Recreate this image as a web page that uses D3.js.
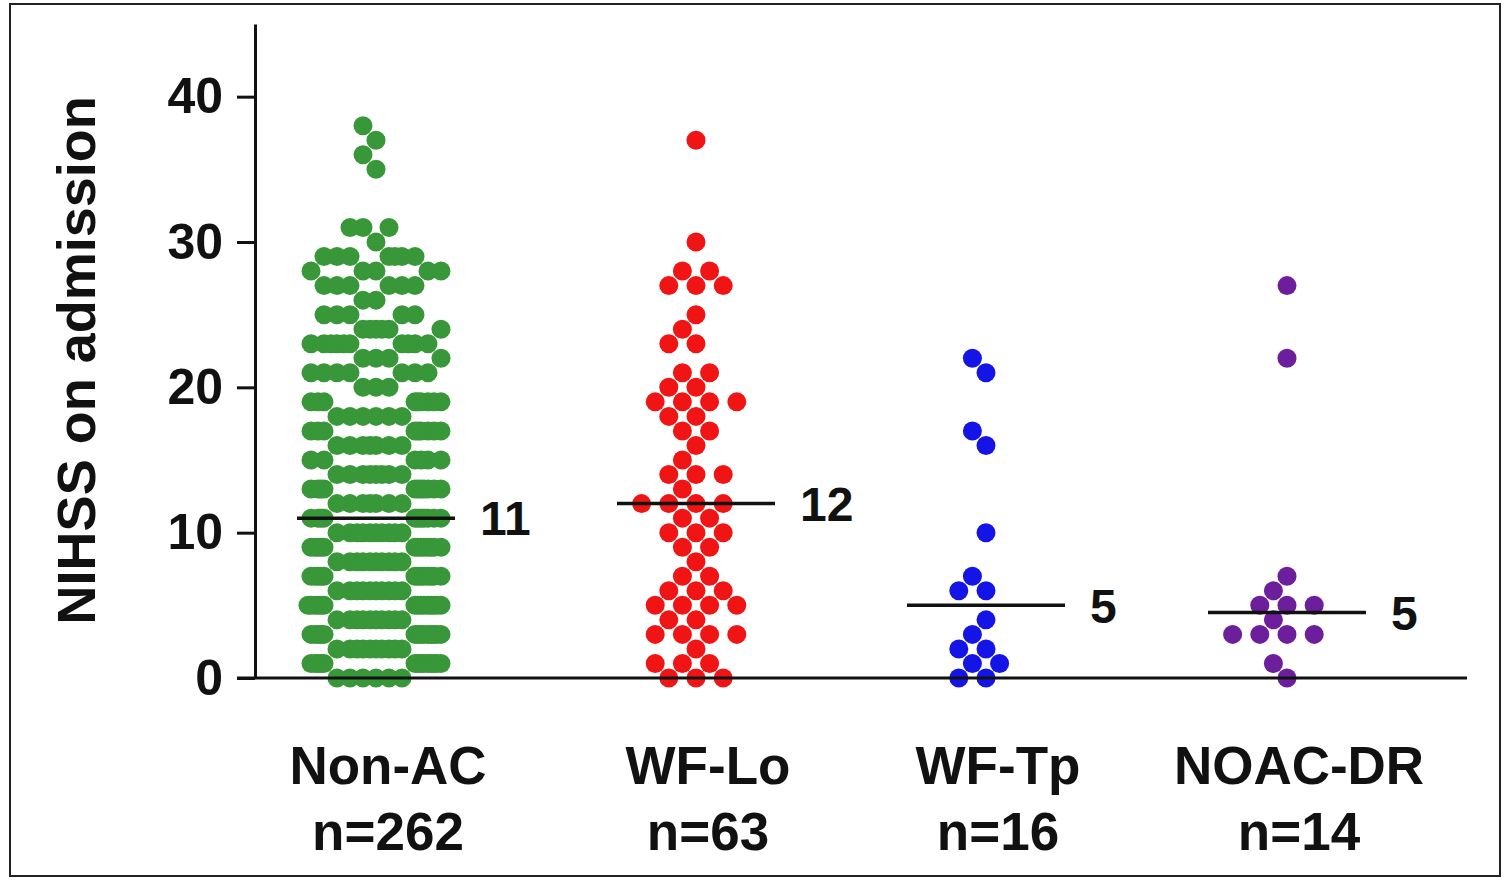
<!DOCTYPE html>
<html>

<head>
  <title>NIHSS on admission</title>
  <script src="https://cdn.jsdelivr.net/npm/d3@7"></script>
  <style>
    body { margin: 0; background: #fff; }
    text { font-family: "Liberation Sans", Arial, sans-serif; font-weight: bold; fill: #111; }
  </style>
</head>

<body>
  <svg width="1506" height="881" id="mainsvg"></svg>
  <script>
    // groups and labels
    const groups = ['Non-AC', 'WF-Lo', 'WF-Tp', 'NOAC-DR'];
    const groupN = ['n=262', 'n=63', 'n=16', 'n=14'];
    const colors = ['#389738', '#f01414', '#1414e6', '#6c1e9c'];
    const yTicks = [0, 10, 20, 30, 40];

    // NIHSS score -> number of patients with that score
    const nonAcScores = [0, 1, 2, 3, 4, 5, 6, 7, 8, 9, 10, 11, 12, 13, 14, 15, 16, 17, 18, 19, 20, 21, 22, 23, 24, 25, 26, 27, 28, 29, 30, 31, 35, 36, 37, 38];
    const nonAcCounts = [6, 14, 10, 14, 10, 15, 10, 13, 10, 13, 10, 11, 7, 11, 8, 6, 7, 9, 6, 9, 3, 7, 4, 10, 6, 5, 2, 6, 5, 7, 1, 3, 1, 1, 1, 1];
    const wfLoScores = [0, 1, 2, 3, 4, 5, 6, 7, 8, 9, 10, 11, 12, 13, 14, 15, 16, 17, 18, 19, 20, 21, 23, 24, 25, 27, 28, 30, 37];
    const wfLoCounts = [3, 3, 1, 4, 2, 4, 3, 2, 1, 2, 3, 2, 4, 1, 3, 1, 1, 2, 2, 4, 2, 2, 2, 1, 1, 3, 2, 1, 1];
    const wfTpScores = [0, 1, 2, 3, 4, 6, 7, 10, 16, 17, 21, 22];
    const wfTpCounts = [2, 2, 2, 1, 1, 2, 1, 1, 1, 1, 1, 1];
    const noacScores = [0, 1, 3, 4, 5, 6, 7, 22, 27];
    const noacCounts = [1, 1, 4, 1, 3, 1, 1, 1, 1];

    const expand = (scores, counts) => scores.flatMap((s, i) => d3.range(counts[i]).map(() => s));
    const groupValues = [
      expand(nonAcScores, nonAcCounts),
      expand(wfLoScores, wfLoCounts),
      expand(wfTpScores, wfTpCounts),
      expand(noacScores, noacCounts)
    ];

    const svg = d3.select('#mainsvg');
    const width = +svg.attr('width');
    const height = +svg.attr('height');

    // frame around the picture
    svg.append('rect')
      .attr('x', 10).attr('y', 4)
      .attr('width', width - 16).attr('height', height - 9)
      .attr('fill', 'none').attr('stroke', '#222').attr('stroke-width', 2);

    const axisX = 255;
    const y = d3.scaleLinear().domain([0, 45]).range([678, 24]);
    const x = d3.scaleOrdinal().domain(groups).range([376, 696, 986, 1287]);

    // Prism-like scatter: each dot goes to the free spot nearest the centre;
    // a full row is squeezed first, only then may it touch the rows next to it
    function layout(values, step, sameGap, minDist, maxOff) {
      const rows = new Map();
      const kMax = Math.floor(maxOff / step);
      const cands = [0];
      for (let k = 1; k <= kMax; k++) cands.push(-k * step, k * step);
      const tList = [1, 0.8, 0.6, 0.5, 0.4, 0.3, 0.2];
      const uList = [1, 0.9, 0.8, 0.7, 0.6];
      const out = [];
      values.slice().sort(d3.ascending).forEach(v => {
        const py = y(v);
        const near = [];
        rows.forEach((arr, w) => {
          const ddy = Math.abs(y(w) - py);
          if (w !== v && ddy < minDist) arr.forEach(dx => near.push([dx, ddy]));
        });
        const same = rows.get(v) || [];
        let best = null;
        outer:
        for (const u of uList) {
          for (const t of tList) {
            for (const dx of cands) {
              if (same.some(s => Math.abs(s - dx) < sameGap * t - 0.01)) continue;
              if (near.some(([nx, ny]) => Math.hypot(nx - dx, ny) < minDist * u)) continue;
              best = dx;
              break outer;
            }
          }
        }
        if (best === null) best = 0;
        if (!rows.has(v)) rows.set(v, []);
        rows.get(v).push(best);
        out.push({ v, py, dx: best });
      });
      return out;
    }

    const g = svg.append('g');

    groupValues.forEach((vals, i) => {
      const dense = vals.length > 100;
      const pts = dense ? layout(vals, 1, 13, 19, 68) : layout(vals, 13.6, 27, 19.5, 82);
      g.append('g').selectAll('circle')
        .data(pts)
        .enter()
        .append('circle')
        .attr('cx', d => x(groups[i]) + d.dx)
        .attr('cy', d => d.py)
        .attr('r', 9.5)
        .attr('fill', colors[i]);

      // median line + label
      const med = d3.median(vals);
      g.append('line')
        .attr('x1', x(groups[i]) - 79).attr('x2', x(groups[i]) + 79)
        .attr('y1', y(med)).attr('y2', y(med))
        .attr('stroke', '#111').attr('stroke-width', 3.5);
      g.append('text')
        .attr('x', x(groups[i]) + 104)
        .attr('y', y(med))
        .attr('dy', '0.36em')
        .attr('font-size', 48)
        .text(Math.round(med));

      // category labels
      const lab = g.append('text')
        .attr('text-anchor', 'middle')
        .attr('font-size', 53);
      lab.append('tspan').attr('x', x(groups[i]) + 12).attr('y', 784).text(groups[i]);
      lab.append('tspan').attr('x', x(groups[i]) + 12).attr('y', 850).text(groupN[i]);
    });

    // y axis
    const yAxis = d3.axisLeft(y).tickValues(yTicks).tickSize(18).tickSizeOuter(0).tickPadding(14);
    const yAxisGroup = svg.append('g').attr('transform', `translate(${axisX}, 0)`).call(yAxis);
    yAxisGroup.selectAll('.domain, .tick line').attr('stroke', '#111').attr('stroke-width', 3);
    yAxisGroup.selectAll('.tick text')
      .attr('font-size', 50)
      .attr('font-family', '"Liberation Sans", Arial, sans-serif')
      .attr('font-weight', 'bold')
      .attr('fill', '#111');

    // x baseline
    svg.append('line')
      .attr('x1', axisX - 18).attr('x2', 1467)
      .attr('y1', y(0)).attr('y2', y(0))
      .attr('stroke', '#111').attr('stroke-width', 3);

    // y title
    svg.append('text')
      .attr('transform', `translate(76, ${(y(0) + y(40)) / 2 - 27}) rotate(-90)`)
      .attr('text-anchor', 'middle')
      .attr('dy', '0.36em')
      .attr('font-size', 54)
      .text('NIHSS on admission');
  </script>
</body>

</html>
